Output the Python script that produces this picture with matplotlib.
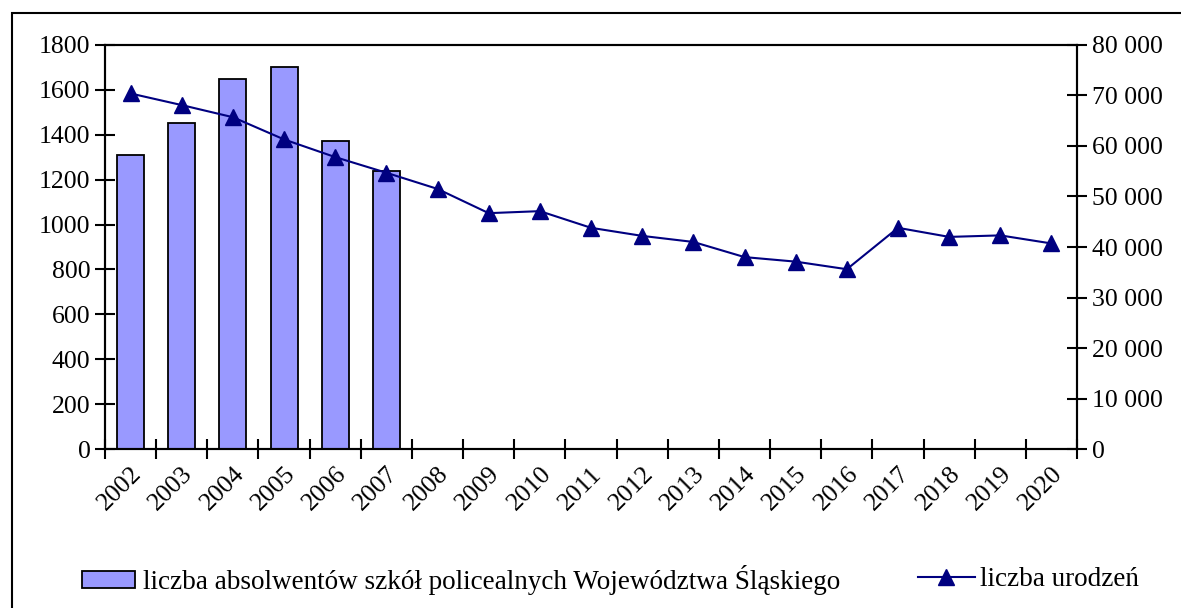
import matplotlib.pyplot as plt
from matplotlib.patches import Rectangle
from matplotlib.lines import Line2D
from matplotlib.ticker import FuncFormatter
import numpy as np

plt.rcParams['font.family'] = ['Liberation Serif', 'DejaVu Serif']
plt.rcParams['font.size'] = 18.5

lata = ['2002', '2003', '2004', '2005', '2006', '2007', '2008', '2009', '2010', '2011',
        '2012', '2013', '2014', '2015', '2016', '2017', '2018', '2019', '2020']
absolwenci = [1308, 1452, 1648, 1703, 1371, 1238]
urodzenia = [70400, 68100, 65700, 61300, 57800, 54700, 51500, 46700, 47100, 43800,
             42200, 41000, 38000, 37100, 35600, 43800, 42000, 42300, 40700]

label_bar = 'liczba absolwentów szkół policealnych Województwa Śląskiego'
label_line = 'liczba urodzeń'

fig = plt.figure(figsize=(11.81, 6.08), dpi=100)
ax = fig.add_axes([0.0889, 0.2615, 0.8231, 0.6645])
ax2 = ax.twinx()

x = np.arange(len(lata))
ax.bar(x[:len(absolwenci)], absolwenci, width=0.53, color='#9999ff',
       edgecolor='black', linewidth=1.3, zorder=2)
ax2.plot(x, urodzenia, color='#000080', marker='^', markersize=12,
         linewidth=1.5, zorder=3)

ax.set_xlim(-0.5, len(lata) - 0.5)
ax.set_ylim(0, 1800)
ax.set_yticks(np.arange(0, 1801, 200))
ax2.set_ylim(0, 80000)
ax2.set_yticks(np.arange(0, 80001, 10000))
ax2.yaxis.set_major_formatter(FuncFormatter(lambda v, p: f'{int(v):,}'.replace(',', ' ')))

# ticks on category boundaries, labels at centres
ax.set_xticks(np.arange(-0.5, len(lata), 1.0))
ax.set_xticklabels([])
ax.set_xticks(x, minor=True)
ax.set_xticklabels(lata, minor=True, rotation=45, ha='right', rotation_mode='anchor')
ax.tick_params(axis='x', which='minor', length=0, pad=10)
ax.tick_params(axis='x', which='major', direction='inout', length=15, width=1.5)
ax.tick_params(axis='y', direction='inout', length=15, width=1.5, pad=3)
ax2.tick_params(axis='y', direction='inout', length=15, width=1.5, pad=3)

for a in (ax, ax2):
    for s in a.spines.values():
        s.set_linewidth(1.5)
        s.set_color('black')

ax.set_zorder(ax2.get_zorder() - 1)
ax.patch.set_visible(True)
ax2.patch.set_visible(False)

# outer frame
fig.patches.append(Rectangle((12 / 1181, -0.1), 1.2, 1 - 13 / 608 + 0.1,
                             transform=fig.transFigure, fill=False,
                             edgecolor='black', linewidth=1.5, clip_on=False))

h_bar = Rectangle((0, 0), 1, 1, facecolor='#9999ff', edgecolor='black', linewidth=1.3)
h_line = Line2D([], [], color='#000080', marker='^', markersize=12, linewidth=1.5)

fig.legend([h_bar], [label_bar], loc='center left', bbox_to_anchor=(82 / 1181, 1 - 580 / 608),
           frameon=False, fontsize=19.5, handlelength=1.95, handleheight=0.55,
           handletextpad=0.3, borderpad=0, borderaxespad=0)
fig.legend([h_line], [label_line], loc='center left', bbox_to_anchor=(918 / 1181, 1 - 580 / 608),
           frameon=False, fontsize=19.5, handlelength=2.1, handletextpad=0.2,
           borderpad=0, borderaxespad=0)

fig.savefig('out.png', dpi=100)
